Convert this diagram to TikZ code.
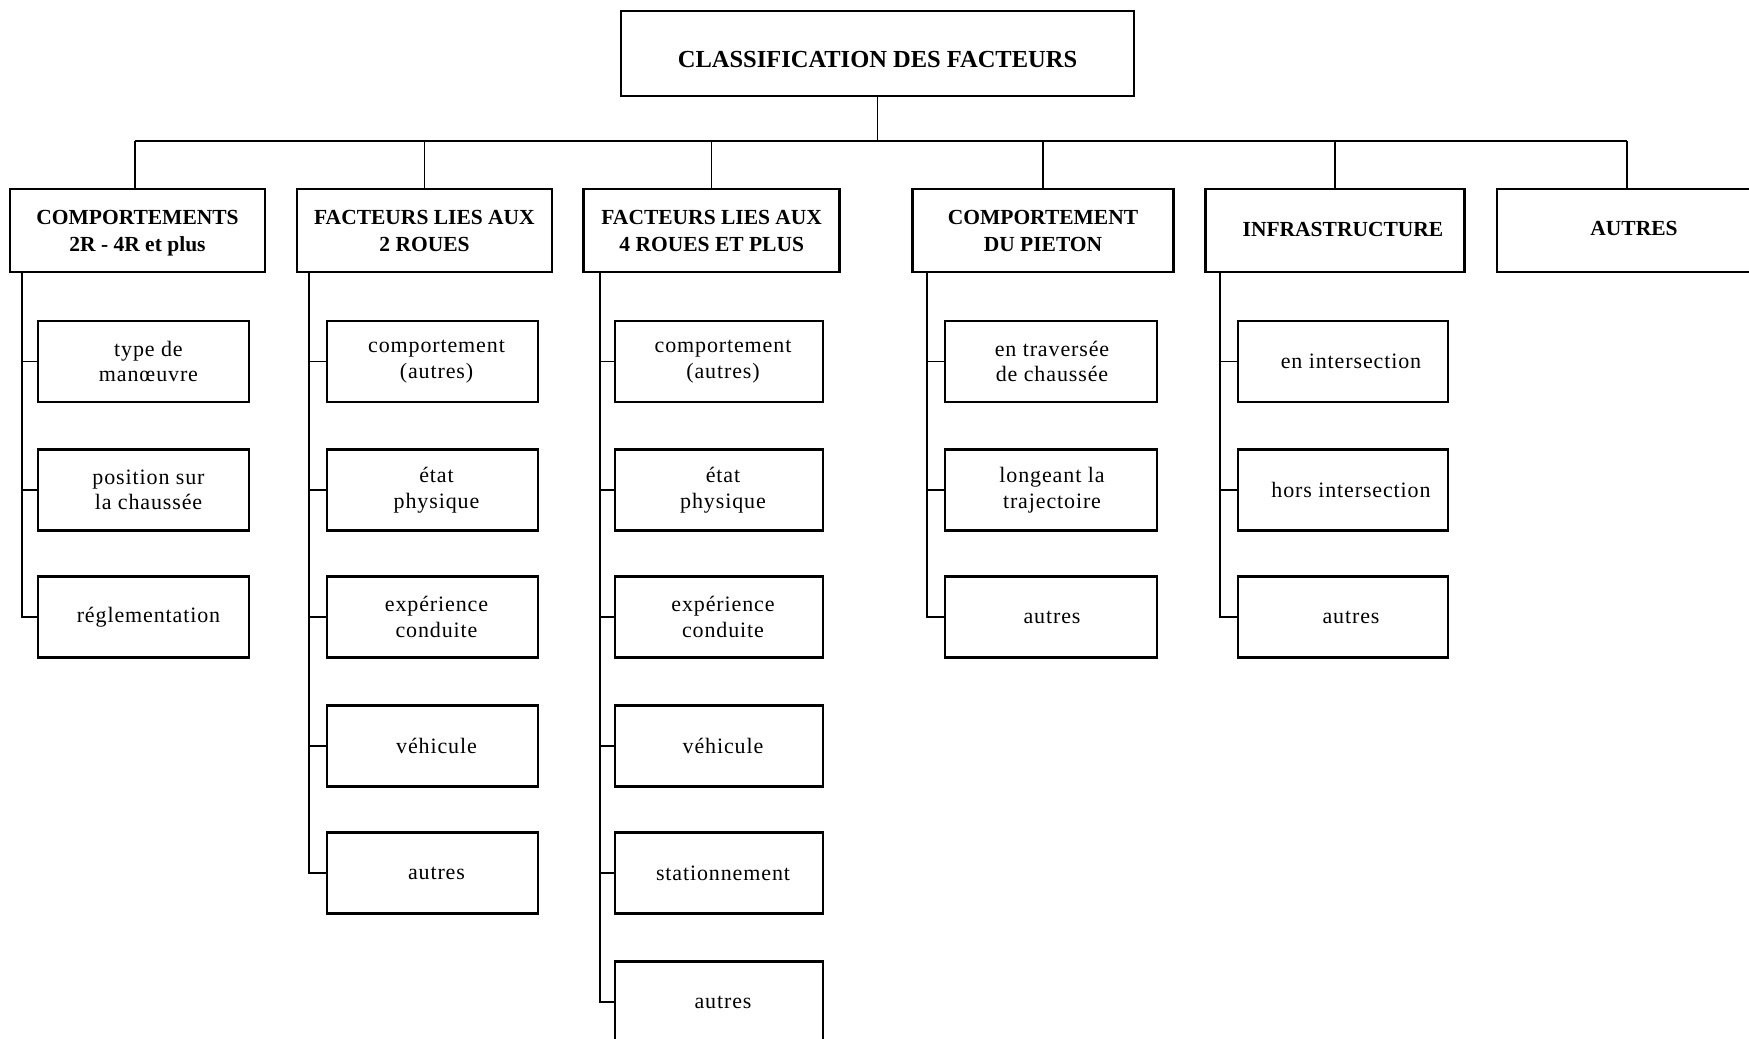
\documentclass[tikz,border=0pt]{standalone}
\usepackage{fontspec}
\setmainfont{Liberation Serif}
\newfontfamily\leaffont[LetterSpace=4]{Liberation Serif}
\newcommand\myleaf[5]{\node[col#1,label={[lt#1]center:{#5}}] (#2) at (#3,#4) {};}
\begin{document}
\begin{tikzpicture}[x=1pt,y=-1pt,
  conn/.style={line width=1.3pt},
  titlebox/.style={draw,line width=2.8pt,minimum width=513pt,minimum height=85pt,inner sep=0pt},
  titletext/.style={inner sep=0pt,yshift=-6pt,font=\fontsize{24.5}{29}\selectfont\bfseries},
  headbox/.style={draw,line width=2.8pt,minimum height=83pt,inner sep=0pt,align=center,text depth=0pt,font=\fontsize{21.5}{27}\selectfont\bfseries},
  headtext/.style={inner sep=0pt,font=\fontsize{21.5}{27}\selectfont\bfseries},
  leafbox/.style={draw,line width=2.1pt,minimum height=81pt,inner sep=0pt},
  lt/.style={inner sep=0pt,align=center,font=\leaffont\fontsize{22}{25.5}\selectfont},
  colA/.style={leafbox,minimum width=211pt},
  colB/.style={leafbox,minimum width=211pt},
  colC/.style={leafbox,minimum width=208pt},
  colD/.style={leafbox,minimum width=212pt},
  colE/.style={leafbox,minimum width=210pt},
  ltA/.style={lt,xshift=5pt},
  ltB/.style={lt,xshift=4pt},
  ltC/.style={lt,xshift=4pt},
  ltD/.style={lt,xshift=1pt},
  ltE/.style={lt,xshift=8pt}]
\fill[white] (0,0) rectangle (1749,1039);
\useasboundingbox (0,0) rectangle (1749,1039);
\clip (0,0) rectangle (1749,1039);

% title
\node[titlebox,label={[titletext]center:CLASSIFICATION DES FACTEURS}] (title) at (877.5,53.5) {};

% headings
\node[headbox,minimum width=255pt] (h1) at (137.5,230.5) {COMPORTEMENTS\\2R - 4R et plus};
\node[headbox,minimum width=255pt] (h2) at (424.5,230.5) {FACTEURS LIES AUX\\2 ROUES};
\node[headbox,minimum width=256pt] (h3) at (711.75,230.5) {FACTEURS LIES AUX\\4 ROUES ET PLUS};
\node[headbox,minimum width=261pt] (h4) at (1043,230.5) {COMPORTEMENT\\DU PIETON};
\node[headbox,minimum width=259pt,label={[headtext,xshift=8pt,yshift=1pt]center:INFRASTRUCTURE}] (h5) at (1335,230.5) {};
\node[headbox,minimum width=274pt,label={[headtext,yshift=2pt]center:AUTRES}] (h6) at (1634,230.5) {};

% column 1
\myleaf{A}{a1}{143.5}{361.5}{type de\\manœuvre}
\myleaf{A}{a2}{143.5}{490}{position sur\\la chaussée}
\myleaf{A}{a3}{143.5}{617}{réglementation}

% column 2
\myleaf{B}{b1}{432.5}{361.5}{comportement\\(autres)}
\myleaf{B}{b2}{432.5}{490}{état\\physique}
\myleaf{B}{b3}{432.5}{617}{expérience\\conduite}
\myleaf{B}{b4}{432.5}{746}{véhicule}
\myleaf{B}{b5}{432.5}{873}{autres}

% column 3
\myleaf{C}{c1}{719}{361.5}{comportement\\(autres)}
\myleaf{C}{c2}{719}{490}{état\\physique}
\myleaf{C}{c3}{719}{617}{expérience\\conduite}
\myleaf{C}{c4}{719}{746}{véhicule}
\myleaf{C}{c5}{719}{873}{stationnement}
\myleaf{C}{c6}{719}{1002}{autres}

% column 4
\myleaf{D}{d1}{1051}{361.5}{en traversée\\de chaussée}
\myleaf{D}{d2}{1051}{490}{longeant la\\trajectoire}
\myleaf{D}{d3}{1051}{617}{autres}

% column 5
\myleaf{E}{e1}{1343}{361.5}{en intersection}
\myleaf{E}{e2}{1343}{490}{hors intersection}
\myleaf{E}{e3}{1343}{617}{autres}

% bus
\coordinate (busL) at (135,141);
\coordinate (busR) at (1627,141);
\draw[conn] (title.south) -- (title.south |- busL);
\draw[conn] (busL) -- (busR);
\draw[conn] (busL) -- (busL |- h1.north);
\foreach \h in {h2,h3,h4,h5} \draw[conn] (\h.north) -- (\h.north |- busL);
\draw[conn] (busR) -- (busR |- h6.north);

% spines
\coordinate (s1) at (22,272);
\coordinate (s2) at (309,272);
\coordinate (s3) at (600,272);
\coordinate (s4) at (927,272);
\coordinate (s5) at (1220,272);

\draw[conn] (s1) |- (a3.west);
\foreach \n in {a1,a2} \draw[conn] (s1 |- \n.west) -- (\n.west);
\draw[conn] (s2) |- (b5.west);
\foreach \n in {b1,b2,b3,b4} \draw[conn] (s2 |- \n.west) -- (\n.west);
\draw[conn] (s3) |- (c6.west);
\foreach \n in {c1,c2,c3,c4,c5} \draw[conn] (s3 |- \n.west) -- (\n.west);
\draw[conn] (s4) |- (d3.west);
\foreach \n in {d1,d2} \draw[conn] (s4 |- \n.west) -- (\n.west);
\draw[conn] (s5) |- (e3.west);
\foreach \n in {e1,e2} \draw[conn] (s5 |- \n.west) -- (\n.west);
\end{tikzpicture}
\end{document}
